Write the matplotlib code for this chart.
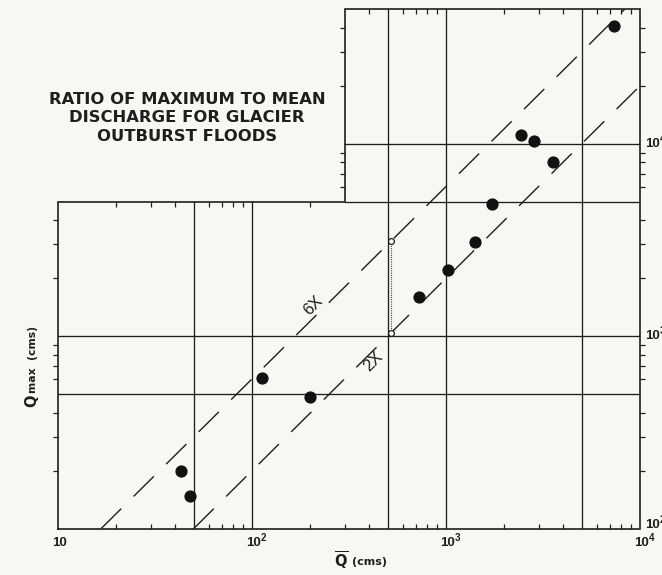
import numpy as np
import matplotlib
matplotlib.use("Agg")
import matplotlib.pyplot as plt

# Mean discharge (cms) and peak discharge (cms) of glacier outburst floods
q_mean = [43, 48, 113, 200, 730, 1020, 1410, 1730, 2430, 2840, 3570, 7370]
q_max = [200, 148, 610, 485, 1600, 2200, 3080, 4840, 11100, 10400, 8000, 40800]

# Reference pair showing the spread between the 2X and 6X envelopes
ref_mean = 520
ref_max = [1040, 3120]

# Envelope lines Qmax = k * Qmean
ratios = [6, 2]
ratio_labels = ["6X", "2X"]

x_tick_values = [10, 100, 1000, 10000]
y_tick_values = [100, 1000, 10000]

INK = "#1e1e1e"
BG = "#f8f8f3"
W, H = 662, 575

fig = plt.figure(figsize=(W / 100, H / 100), dpi=100, facecolor=BG)
left, right, bottom, top = 58, 640, 528.7, 9.3
ax = fig.add_axes([left / W, 1 - bottom / H, (right - left) / W, (bottom - top) / H])
ax.set_xscale("log")
ax.set_yscale("log")
xmin, xmax, ymin, ymax = 10, 1e4, 100, 5e4
ax.set_xlim(xmin, xmax)
ax.set_ylim(ymin, ymax)
ax.axis("off")

xcut, ycut = 300, 5000  # corner of the stepped frame

# Stepped frame
frame_x = [xmin, xmax, xmax, xcut, xcut, xmin, xmin]
frame_y = [ymin, ymin, ymax, ymax, ycut, ycut, ymin]
ax.plot(frame_x, frame_y, color=INK, lw=1.2, clip_on=False, solid_joinstyle="miter", zorder=3)

# Grid lines
glw = 0.95
for y in (500, 1000):
    ax.plot([xmin, xmax], [y, y], color=INK, lw=glw, zorder=2)
for y in (ycut, 10000):
    ax.plot([xcut, xmax], [y, y], color=INK, lw=glw, zorder=2)
for x in (50, 100):
    ax.plot([x, x], [ymin, ycut], color=INK, lw=glw, zorder=2)
for x in (500, 1000, 5000):
    ax.plot([x, x], [ymin, ymax], color=INK, lw=glw, zorder=2)

# Inward minor ticks along each frame edge
def minors(lo, hi):
    vals = []
    for k in range(1, 5):
        for m in (2, 3, 4, 6, 7, 8, 9):
            v = m * 10 ** k
            if lo < v < hi:
                vals.append(v)
    return vals

tk = dict(linestyle="none", color=INK, markersize=3.6, markeredgewidth=0.9, clip_on=False, zorder=3)
bx = minors(xmin, xmax)
ax.plot(bx, [ymin] * len(bx), marker=2, **tk)
tx1 = minors(xmin, xcut)
ax.plot(tx1, [ycut] * len(tx1), marker=3, **tk)
tx2 = minors(xcut, xmax)
ax.plot(tx2, [ymax] * len(tx2), marker=3, **tk)
ly1 = minors(ymin, ycut)
ax.plot([xmin] * len(ly1), ly1, marker=0, **tk)
ly2 = minors(ycut, ymax)
ax.plot([xcut] * len(ly2), ly2, marker=0, **tk)
ry = minors(ymin, ymax)
ax.plot([xmax] * len(ry), ry, marker=1, **tk)

# Ratio envelope lines
for k in ratios:
    x0 = max(xmin, ymin / k)
    x1 = min(xmax, ymax / k)
    ax.plot([x0, x1], [k * x0, k * x1], color=INK, lw=1.0,
            linestyle=(0, (20.5, 12.5)), zorder=2)

label_fp = dict(fontsize=12, family="Liberation Sans", color=INK, rotation=45,
                ha="center", va="center")
ax.annotate(ratio_labels[0], xy=(207, ratios[0] * 207), xytext=(0, 9),
            textcoords="offset points", **label_fp)
ax.annotate(ratio_labels[1], xy=(420, ratios[1] * 420), xytext=(0, -7.6),
            textcoords="offset points", **label_fp)

# Data points
ax.plot(q_mean, q_max, linestyle="none", marker="o", markersize=7.8,
        color="#111111", zorder=4)
ax.plot([ref_mean, ref_mean], ref_max, linestyle=(0, (0.8, 1.2)), color=INK,
        lw=0.8, zorder=3)
ax.plot([ref_mean, ref_mean], ref_max, linestyle="none", marker="o", markersize=4.2,
        markerfacecolor="white", markeredgecolor=INK, markeredgewidth=0.9, zorder=4)

# Tick labels
tick_fp = dict(fontsize=9.5, family="Liberation Sans", fontweight="bold", color=INK)
sup_fp = dict(fontsize=7, family="Liberation Sans", fontweight="bold", color=INK)
for v in x_tick_values:
    e = int(round(np.log10(v)))
    ax.annotate("10", xy=(v, ymin), xytext=(1, -10.5), textcoords="offset points",
                ha="center", va="center", annotation_clip=False, **tick_fp)
    if e > 1:
        ax.annotate(str(e), xy=(v, ymin), xytext=(6.5, -7), textcoords="offset points",
                    ha="left", va="center", annotation_clip=False, **sup_fp)
for v in y_tick_values:
    e = int(round(np.log10(v)))
    dy = 2.5 if v == ymin else 0
    ax.annotate("10", xy=(xmax, v), xytext=(3.4, dy), textcoords="offset points",
                ha="left", va="center", annotation_clip=False, **tick_fp)
    ax.annotate(str(e), xy=(xmax, v), xytext=(14.2, 3.6 + dy), textcoords="offset points",
                ha="left", va="center", annotation_clip=False, **sup_fp)

# Axis titles
fig.text(341 / W, 1 - 561 / H, r"$\overline{\mathbf{Q}}$", ha="center", va="center",
         fontsize=10.5, color=INK)
fig.text(352 / W, 1 - 562 / H, "(cms)", ha="left", va="center",
         fontsize=8, fontweight="bold", family="DejaVu Sans", color=INK)
fig.text(32 / W, 1 - 401 / H, "Q", rotation=90, ha="center", va="center",
         fontsize=10.5, fontweight="bold", family="DejaVu Sans", color=INK)
fig.text(32.5 / W, 1 - 393 / H, "max  (cms)", rotation=90, ha="center", va="bottom",
         fontsize=7.8, fontweight="bold", family="DejaVu Sans", color=INK)

# Chart title
title_lines = ["RATIO OF MAXIMUM TO MEAN", "DISCHARGE FOR GLACIER", "OUTBURST FLOODS"]
for i, line in enumerate(title_lines):
    fig.text(187 / W, 1 - (100 + 18 * i) / H, line, ha="center", va="center",
             fontsize=11.8, fontweight="bold", family="DejaVu Sans", color=INK)

fig.savefig("out.png", dpi=100, facecolor=BG)
